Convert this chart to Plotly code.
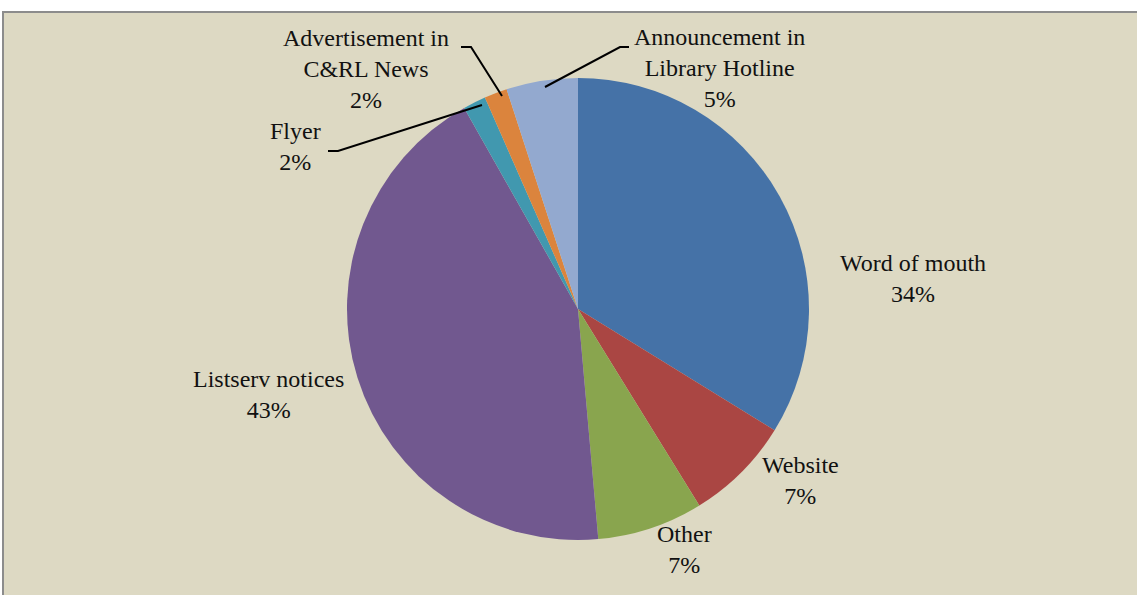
import plotly.graph_objects as go

W, H = 1137, 595

labels = ["Word of mouth", "Website", "Other", "Listserv notices", "Flyer",
          "Advertisement in C&RL News", "Announcement in Library Hotline"]
values = [33.8, 7.4, 7.4, 43.2, 1.6, 1.6, 5.0]
display_labels = ["Word of mouth", "Website", "Other", "Listserv notices", "Flyer",
                  "Advertisement in<br>C&RL News", "Announcement in<br>Library Hotline"]
colors = ["#4572A7", "#AA4643", "#89A54E", "#71588F", "#4198AF", "#DB843D", "#93A9CF"]

# label block centres (pixels) and leader lines (pixels)
label_pos = [(913, 278), (800, 480), (684, 549), (268, 394), (295, 146), (366, 69), (719, 68)]
leaders = {
    4: [(328, 151), (338, 151), (482, 105)],
    5: [(461, 47), (471, 47), (502, 96)],
    6: [(629, 47), (620, 47), (545, 87)],
}

cx, cy, r = 578, 309, 231

def px(x):
    return x / W

def py(y):
    return 1 - y / H

fig = go.Figure()
fig.add_trace(go.Pie(
    labels=labels, values=values, sort=False, direction="clockwise", rotation=0,
    marker=dict(colors=colors, line=dict(width=0)),
    textinfo="none", hoverinfo="label+percent", showlegend=False,
    domain=dict(x=[px(cx - r), px(cx + r)], y=[py(cy + r), py(cy - r)]),
))

total = sum(values)
annotations = []
for i, lab in enumerate(display_labels):
    pct = round(values[i] / total * 100)
    x, y = label_pos[i]
    annotations.append(dict(
        x=px(x), y=py(y), xref="paper", yref="paper", showarrow=False,
        text=f"{lab}<br>{pct}%", align="center", xanchor="center", yanchor="middle",
        font=dict(family="'Liberation Serif', 'Times New Roman', 'DejaVu Serif', serif",
                  size=24, color="#111111"),
    ))

shapes = [dict(type="rect", xref="paper", yref="paper", x0=px(3), x1=px(1140), y0=py(600), y1=py(12),
               line=dict(color="#8c8c8c", width=2), fillcolor="#DDD9C3", layer="below")]
for i, pts in leaders.items():
    path = "M " + " L ".join(f"{px(a)},{py(b)}" for a, b in pts)
    shapes.append(dict(type="path", xref="paper", yref="paper", path=path,
                       line=dict(color="#000000", width=2)))

fig.update_layout(
    width=W, height=H, margin=dict(l=0, r=0, t=0, b=0),
    paper_bgcolor="white", plot_bgcolor="white",
    annotations=annotations, shapes=shapes,
)
fig.write_html("out.html", config={"displayModeBar": False},
               post_script="document.body.style.margin='0';")
